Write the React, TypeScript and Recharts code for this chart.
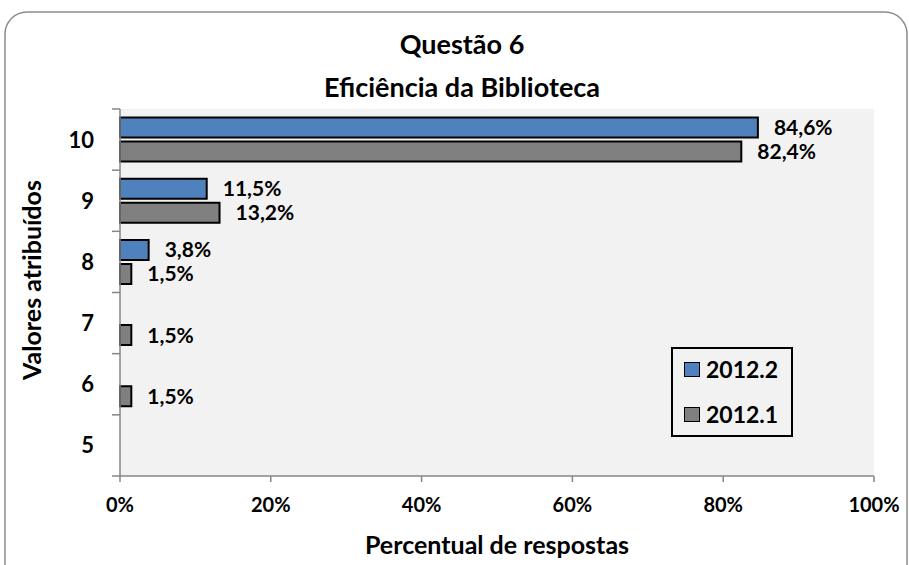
import React from 'react';
import { BarChart, Bar, XAxis, YAxis, CartesianGrid, LabelList } from 'recharts';

const categories = ['10', '9', '8', '7', '6', '5'];
const serie20122 = [84.6, 11.5, 3.8, 0, 0, 0];
const serie20121 = [82.4, 13.2, 1.5, 1.5, 1.5, 0];
const xTicks = [0, 20, 40, 60, 80, 100];
const seriesNames = ['2012.2', '2012.1'];
const seriesColors = ['#4f81bd', '#808080'];

const data = categories.map((cat, i) => ({ cat, a: serie20122[i], b: serie20121[i] }));

const FONT = 'Lato, "Open Sans", sans-serif';
const AXIS = '#868686';
const TICK_SIZE = 8;
const TICK_MARGIN = 18;

const fmtPct = (v: any) => (v ? Number(v).toFixed(1).replace('.', ',') + '%' : '');

// category ticks sit between bands like excel, label in the middle
function YTick(props: any) {
  const { x, y, payload, index, visibleTicksCount } = props;
  const half = payload.offset || 0;
  const ax = x + TICK_SIZE + TICK_MARGIN;
  const last = index === visibleTicksCount - 1;
  return (
    <g>
      <line x1={ax - TICK_SIZE} x2={ax} y1={y - half} y2={y - half} stroke={AXIS} strokeWidth={1.5} />
      {last && <line x1={ax - TICK_SIZE} x2={ax} y1={y + half} y2={y + half} stroke={AXIS} strokeWidth={1.5} />}
      <text x={x} y={y} dy={8} textAnchor="end" fontFamily={FONT} fontWeight={700} fontSize={22} fill="#000">
        {payload.value}
      </text>
    </g>
  );
}

function LegendBox() {
  return (
    <div style={{ position: 'absolute', left: 671, top: 347, boxSizing: 'border-box', width: 122, height: 90, border: '2px solid #000', background: 'transparent', fontFamily: FONT, fontWeight: 700, fontSize: 23 }}>
      {seriesNames.map((n, i) => (
        <div key={n} style={{ position: 'absolute', left: 11, top: i ? 52 : 7, display: 'flex', alignItems: 'center', height: 26 }}>
          <span style={{ boxSizing: 'border-box', width: 16, height: 15, background: seriesColors[i], border: '1.5px solid #000', marginRight: 6 }} />
          {n}
        </div>
      ))}
    </div>
  );
}

export default function App() {
  return (
    <div style={{ position: 'absolute', left: 0, top: 0, width: 909, height: 565, background: '#fff', overflow: 'hidden' }}>
      <svg width={909} height={565} style={{ position: 'absolute', left: 0, top: 0 }}>
        <rect x={5} y={12} width={902} height={580} rx={22} fill="#fff" stroke="#8c8c8c" strokeWidth={1.5} />
        <text x={462} y={54} textAnchor="middle" fontFamily={FONT} fontWeight={700} fontSize={27}>Questão 6</text>
        <text x={462} y={97} textAnchor="middle" fontFamily={FONT} fontWeight={700} fontSize={27}>Eficiência da Biblioteca</text>
        <text x={497} y={554} textAnchor="middle" fontFamily={FONT} fontWeight={700} fontSize={25}>Percentual de respostas</text>
        <text transform="translate(41,280) rotate(-90)" textAnchor="middle" fontFamily={FONT} fontWeight={700} fontSize={25}>Valores atribuídos</text>
      </svg>
      <div style={{ position: 'absolute', left: 0, top: 0 }}>
        <BarChart
          width={909}
          height={565}
          data={data}
          layout="vertical"
          margin={{ top: 109, right: 35, bottom: 49, left: 60 }}
          barCategoryGap="14%"
          barGap={4}
        >
          <CartesianGrid fill="#f2f2f2" horizontal={false} vertical={false} />
          <XAxis
            type="number"
            domain={[0, 100]}
            ticks={xTicks}
            tickFormatter={(v) => `${v}%`}
            stroke={AXIS}
            strokeWidth={1.5}
            tickSize={6}
            tickMargin={16}
            tick={{ fill: '#000', fontFamily: FONT, fontWeight: 700, fontSize: 20 }}
            height={40}
          />
          <YAxis
            type="category"
            dataKey="cat"
            width={60}
            stroke={AXIS}
            strokeWidth={1.5}
            tickLine={false}
            tickSize={TICK_SIZE}
            tickMargin={TICK_MARGIN}
            tick={<YTick />}
          />
          <Bar dataKey="a" name={seriesNames[0]} fill={seriesColors[0]} stroke="#000" strokeWidth={2} isAnimationActive={false}>
            <LabelList dataKey="a" position="right" offset={16} formatter={fmtPct} fill="#000" fontFamily={FONT} fontWeight={700} fontSize={21} />
          </Bar>
          <Bar dataKey="b" name={seriesNames[1]} fill={seriesColors[1]} stroke="#000" strokeWidth={2} isAnimationActive={false}>
            <LabelList dataKey="b" position="right" offset={16} formatter={fmtPct} fill="#000" fontFamily={FONT} fontWeight={700} fontSize={21} />
          </Bar>
        </BarChart>
      </div>
      <LegendBox />
    </div>
  );
}
